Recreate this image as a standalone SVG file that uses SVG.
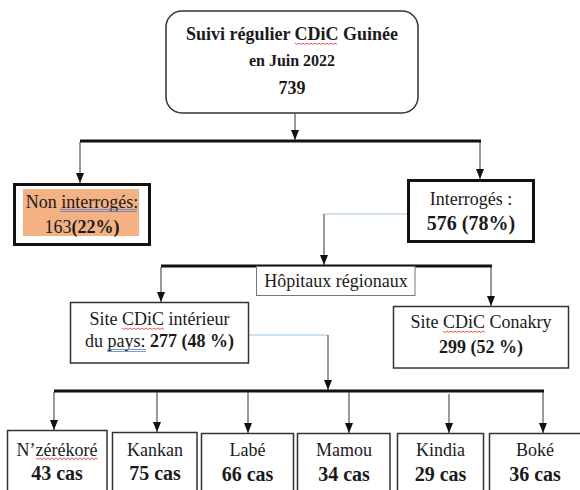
<svg xmlns="http://www.w3.org/2000/svg" width="580" height="490" viewBox="0 0 580 490">
<defs>
<marker id="ah" markerUnits="userSpaceOnUse" markerWidth="10" markerHeight="10" viewBox="0 0 10 10" refX="10" refY="5" orient="auto">
<path d="M0,1 L10,5 L0,9 Z" fill="#111"/>
</marker>
<style>
text{font-family:"Liberation Serif","Times New Roman",serif;fill:#1a1a1a;text-anchor:middle}
.r{font-size:18px}
.b{font-weight:bold}
.box{fill:#fff;stroke:#333;stroke-width:1.5}
.thick{fill:#fff;stroke:#111;stroke-width:3}
.bar{stroke:#111;stroke-width:3;fill:none}
.ln{stroke:#333;stroke-width:1;fill:none;marker-end:url(#ah)}
.blue{stroke:#9dc3e6;stroke-width:1;fill:none}
.sq{stroke:#e03030;stroke-width:0.8;fill:none}
.gu{stroke:#5b7fc7;stroke-width:0.8;fill:none}
</style>
</defs>
<rect width="580" height="490" fill="#fff"/>

<g id="connectors">
<path class="ln" d="M295 114 V140"/>
<path class="bar" d="M80 141 H481"/>
<path class="ln" d="M80 142 V183"/>
<path class="ln" d="M480 142 V179"/>
<path class="blue" d="M407 214 H324"/>
<path class="ln" d="M324 214 V265"/>
<path class="bar" d="M161 266 H492"/>
<path class="ln" d="M161 267 V302"/>
<path class="ln" d="M491 267 V306"/>
<path class="blue" d="M249 335 H328"/>
<path class="ln" d="M328 335 V390"/>
<path class="bar" d="M54 391 H544"/>
<path class="ln" d="M54 392 V430"/>
<path class="ln" d="M157 392 V432"/>
<path class="ln" d="M248 392 V433"/>
<path class="ln" d="M349 392 V433"/>
<path class="ln" d="M449 394 V433"/>
<path class="ln" d="M543 392 V433"/>
</g>

<g id="root">
<rect class="box" x="166" y="11" width="252" height="102" rx="16"/>
<text class="b" x="292" y="40" font-size="18">Suivi régulier CDiC Guinée</text>
<path class="sq" d="M295 43 l2 1.5 l2 -1.5 l2 1.5 l2 -1.5 l2 1.5 l2 -1.5 l2 1.5 l2 -1.5 l2 1.5 l2 -1.5 l2 1.5 l2 -1.5 l2 1.5 l2 -1.5 l2 1.5 l2 -1.5 l2 1.5 l2 -1.5 l2 1.5 l2 -1.5 l2 1.5"/>
<text class="b" x="292" y="66" font-size="16">en Juin 2022</text>
<text class="b" x="292" y="94" font-size="18">739</text>
</g>

<g id="non-interroges">
<rect class="thick" x="14.5" y="184.5" width="135" height="60"/>
<rect x="23" y="189" width="116" height="47" fill="#f4b183"/>
<text class="r" x="82" y="208">Non interrogés:</text>
<path class="gu" d="M60 209.5 H137 M60 211.5 H137"/>
<text class="r" x="82" y="233">163<tspan class="b">(22%)</tspan></text>
</g>

<g id="interroges">
<rect class="thick" x="408.5" y="180.5" width="125" height="61"/>
<text class="r" x="471" y="205">Interrogés :</text>
<text class="b" x="471" y="230" font-size="20">576 (78%)</text>
</g>

<g id="hopitaux">
<rect x="256.5" y="266.5" width="158.5" height="29" fill="#fff" stroke="#777" stroke-width="1"/>
<text class="r" x="336" y="287">Hôpitaux régionaux</text>
</g>

<g id="site-interieur">
<rect class="box" x="70.5" y="302.5" width="178" height="60.5"/>
<text class="r" x="159.5" y="325">Site CDiC intérieur</text>
<path class="sq" d="M122 328 l2 1.5 l2 -1.5 l2 1.5 l2 -1.5 l2 1.5 l2 -1.5 l2 1.5 l2 -1.5 l2 1.5 l2 -1.5 l2 1.5 l2 -1.5 l2 1.5 l2 -1.5 l2 1.5 l2 -1.5 l2 1.5 l2 -1.5 l2 1.5 l2 -1.5 l2 1.5"/>
<text class="r" x="159.5" y="347">du pays: <tspan class="b">277 (48 %)</tspan></text>
<path class="gu" d="M107 349.5 H146 M107 351.5 H146"/>
</g>

<g id="site-conakry">
<rect class="box" x="393.5" y="306.5" width="175" height="61.5"/>
<text class="r" x="481" y="328">Site CDiC Conakry</text>
<path class="sq" d="M443 331 l2 1.5 l2 -1.5 l2 1.5 l2 -1.5 l2 1.5 l2 -1.5 l2 1.5 l2 -1.5 l2 1.5 l2 -1.5 l2 1.5 l2 -1.5 l2 1.5 l2 -1.5 l2 1.5 l2 -1.5 l2 1.5 l2 -1.5 l2 1.5 l2 -1.5 l2 1.5"/>
<text class="b" x="481" y="353" font-size="18">299 (52 %)</text>
</g>

<g id="nzerekore">
<rect class="box" x="7.5" y="430.5" width="99.5" height="70"/>
<text class="r" x="57" y="456">N’zérékoré</text>
<path class="sq" d="M36 458 l2 1.5 l2 -1.5 l2 1.5 l2 -1.5 l2 1.5 l2 -1.5 l2 1.5 l2 -1.5 l2 1.5 l2 -1.5 l2 1.5 l2 -1.5 l2 1.5 l2 -1.5 l2 1.5 l2 -1.5 l2 1.5 l2 -1.5 l2 1.5 l2 -1.5 l2 1.5 l2 -1.5 l2 1.5 l2 -1.5 l2 1.5 l2 -1.5 l2 1.5 l2 -1.5 l2 1.5 l2 -1.5 l2 1.5"/>
<text class="b" x="57" y="480" font-size="20">43 cas</text>
</g>

<g id="kankan">
<rect class="box" x="112.5" y="432.5" width="84.5" height="70"/>
<text class="r" x="155" y="456">Kankan</text>
<text class="b" x="155" y="480" font-size="20">75 cas</text>
</g>

<g id="labe">
<rect class="box" x="201.5" y="433.5" width="92" height="70"/>
<text class="r" x="247.5" y="456">Labé</text>
<text class="b" x="247.5" y="481" font-size="20">66 cas</text>
</g>

<g id="mamou">
<rect class="box" x="297.5" y="433.5" width="92.5" height="70"/>
<text class="r" x="344" y="456">Mamou</text>
<text class="b" x="344" y="481" font-size="20">34 cas</text>
</g>

<g id="kindia">
<rect class="box" x="397.5" y="433.5" width="86" height="70"/>
<text class="r" x="440.5" y="456">Kindia</text>
<text class="b" x="440.5" y="481" font-size="20">29 cas</text>
</g>

<g id="boke">
<rect class="box" x="489.5" y="433.5" width="93" height="70"/>
<text class="r" x="535" y="456">Boké</text>
<text class="b" x="535" y="481" font-size="20">36 cas</text>
</g>
</svg>
